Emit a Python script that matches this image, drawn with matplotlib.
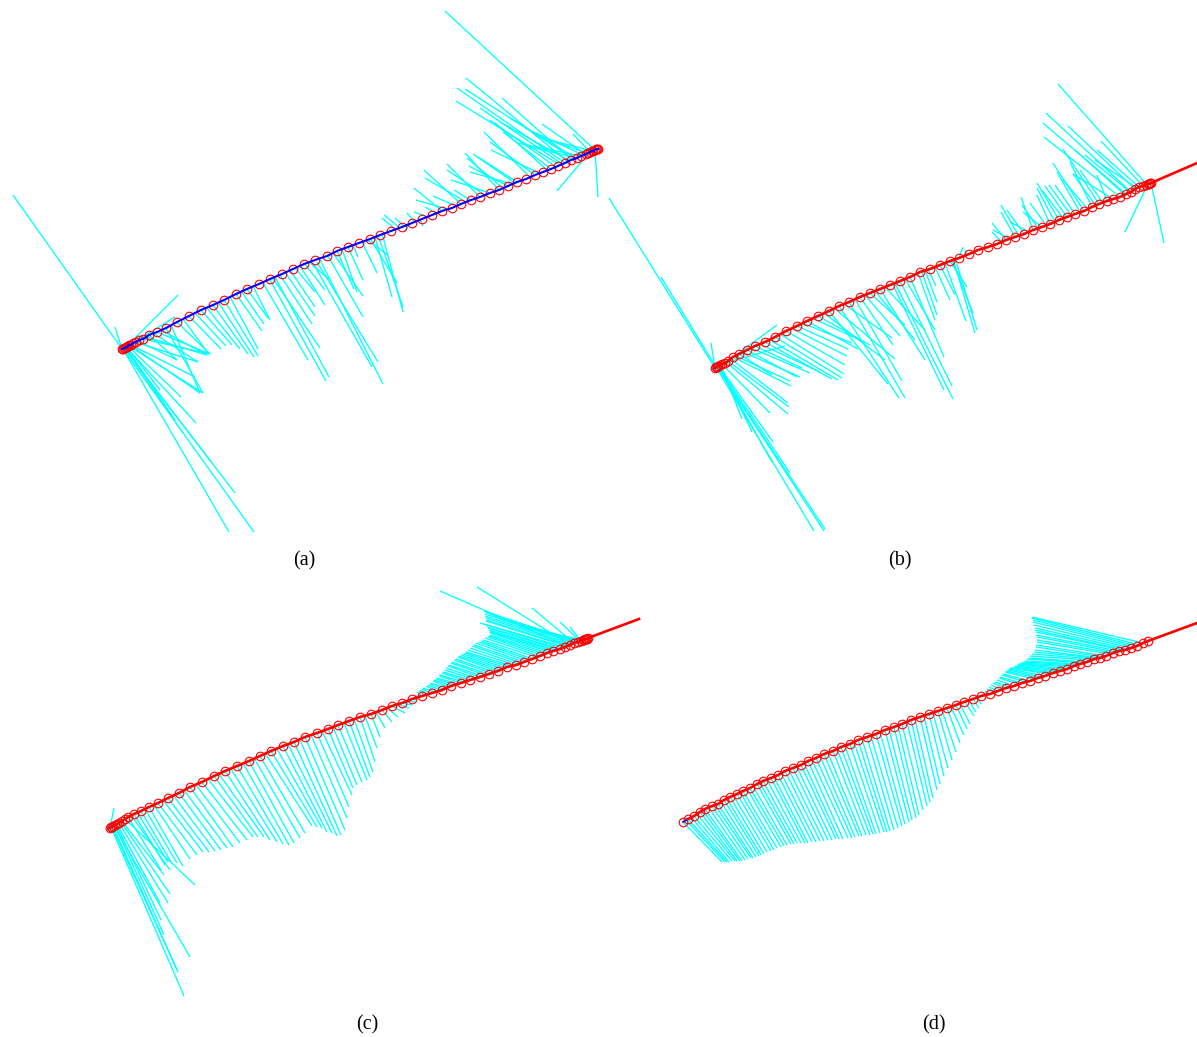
#!/usr/bin/env python3
# curvature combs of one fitted curve at four smoothing levels
# all values are in picture units
import matplotlib
matplotlib.use("Agg")
import matplotlib.pyplot as plt

W, H = 1197, 1037

# sample points of each curve (the open circles)
a_curve = [(122,349),(123,349),(124,348),(125,348),(126,347),(127,347),(128,346),(129,345),(131,345),(133,343),(136,342),(139,340),
           (143,339),(149,335),(157,332),(166,328),(177,322),
           (189,316),(201,310),(213,305),(224,300),(236,294),(247,289),(259,284),(270,279),(282,274),(293,269),
           (304,264),(315,260),(327,256),(337,251),(348,247),(359,243),(370,239),(380,235),(391,231),(402,227),
           (412,223),(422,219),(432,215),(442,211),(452,208),(461,204),(471,200),(480,197),(490,193),(499,190),
           (508,186),(517,182),(526,179),(535,175),(543,172),(551,169),(558,166),(565,163),(571,160),(577,158),
           (581,156),(586,154),(588,153),(590,152),(592,151),(593,151),(595,150),(596,149),(597,149),(598,149)]
b_curve = [(715,368),(716,367),(717,367),(718,366),(720,365),(722,364),(725,363),(728,361),(733,357),(739,354),(747,350),(755,346),(765,342),(775,337),
           (786,331),(797,326),(807,321),(818,316),(829,311),(839,306),(849,302),(860,297),(870,293),(880,289),
           (890,285),(900,281),(910,277),(920,272),(930,269),(940,265),(950,261),(959,258),(969,254),(978,250),
           (988,247),(997,244),(1006,240),(1015,237),(1024,234),(1033,230),(1042,227),(1050,224),(1059,220),(1067,217),
           (1075,214),(1084,211),(1092,207),(1099,204),(1107,201),(1113,199),(1120,197),(1126,194),(1131,192),(1135,189),
           (1139,187),(1143,186),(1146,185),(1148,184),(1149,184),(1150,183),(1151,183)]
c_curve = [(110,828),(111,827),(112,827),(113,826),(115,825),(117,824),(119,823),(122,821),(125,819),(128,817),(134,814),(141,811),(149,807),(158,803),(168,798),
           (179,793),(190,787),(202,782),(214,776),(225,771),(237,766),(249,761),(260,756),(271,751),(283,746),
           (294,742),(305,737),(317,733),(328,729),(338,725),(349,721),(360,717),(371,714),(382,710),(392,706),
           (402,703),(412,699),(422,696),(432,693),(442,690),(451,686),(461,683),(470,680),(480,677),(489,674),
           (498,671),(507,667),(516,665),(524,662),(532,659),(540,656),(547,653),(553,651),(560,649),(565,647),
           (570,645),(574,643),(578,642),(581,641),(583,640),(584,640),(585,639),(586,639),(587,639),(588,638)]
d_curve = [(683,822),(688,819),(694,816),(700,812),(705,809),(712,806),(718,804),(724,800),(730,797),(737,794),
           (743,791),(750,788),(757,784),(763,781),(771,778),(778,775),(785,771),(793,768),(801,765),(808,761),
           (816,758),(824,754),(833,751),(841,747),(850,744),(858,740),(867,737),(876,734),(885,730),(894,727),
           (902,724),(911,720),(920,717),(929,714),(938,711),(947,708),(956,705),(964,702),(973,699),(981,696),
           (990,694),(998,691),(1006,688),(1014,686),(1022,683),(1030,681),(1038,678),(1045,676),(1053,673),(1060,671),
           (1067,669),(1074,666),(1080,664),(1087,662),(1094,659),(1100,658),(1106,656),(1113,653),(1119,651),(1125,650),
           (1131,648),(1137,646),(1143,643),(1148,641)]

# where the curve runs on past its last sample
b_end = (1197,163)
c_end = (639,619)
d_end = (1197,623)

# comb spines: root x, root y, tip x, tip y
a_spines = [(122,349,13,195),(122,349,115,327),(123,349,229,532),(123,349,254,532),(124,348,235,493),(124,348,212,463),
            (125,348,183,433),(125,348,178,295),(126,347,196,423),(126,347,175,420),(127,347,160,390),(128,346,181,397),
            (129,346,203,393),(130,345,200,393),(131,345,195,377),(133,343,175,317),(135,342,198,362),(138,341,177,360),
            (143,339,210,354),(146,337,207,355),(149,335,177,360),(153,333,198,362),(157,332,210,354),(161,330,207,355),
            (166,328,203,393),(171,325,200,393),(177,322,210,354),(183,319,208,353),(189,316,221,349),(195,313,226,346),
            (201,310,232,345),(207,308,240,349),(213,305,248,354),(218,302,254,357),(224,300,258,356),(230,297,258,349),
            (236,294,262,331),(241,291,264,324),(247,289,268,318),(253,286,270,320),(263,283,308,360),(272,277,320,348),
            (270,280,326,381),(275,277,329,377),(280,275,312,324),(285,272,315,316),(290,270,315,307),(295,268,315,292),
            (300,266,325,305),(305,264,325,290),(309,262,330,280),(313,263,372,367),(317,262,378,362),(320,260,383,384),
            (328,256,363,317),(333,253,363,296),(337,251,354,289),(342,249,357,292),(348,247,363,280),(353,245,358,257),
            (362,242,377,273),(367,240,388,255),(370,238,397,283),(375,237,392,297),(378,235,403,307),(382,233,403,312),
            (395,229,382,218),(400,228,384,215),(404,226,395,218),
            (410,224,404,232),(415,222,407,213),(420,220,423,226),(428,217,414,212),(436,213,425,207),(442,211,414,188),
            (447,209,416,200),(456,206,433,196),(461,204,424,170),(466,202,425,178),(470,200,454,190),(480,197,447,164),
            (485,195,447,170),(490,193,451,180),(499,190,465,153),(503,188,467,158),(508,186,469,166),(512,184,470,172),
            (515,183,473,154),(517,182,478,157),(530,177,484,132),(535,175,490,142),(539,173,491,150),(547,170,495,123),
            (551,169,503,132),(556,167,490,120),(560,165,456,101),(562,164,480,108),(565,163,457,88),(568,162,466,78),
            (570,161,500,122),(572,160,502,98),(574,159,465,89),(576,158,510,118),(577,158,530,147),(581,156,517,143),
            (583,155,525,128),(585,154,542,124),(587,153,535,135),(590,152,573,134),(592,151,550,140),(590,152,557,191),
            (595,150,445,11),(595,150,598,197)]

b_spines = [(715,368,609,198),(715,368,711,343),(716,367,661,277),(716,367,814,531),(717,367,824,531),(717,367,825,529),
            (718,366,790,473),(718,366,772,462),(719,366,773,442),(720,365,752,432),(721,365,742,419),(722,364,770,413),
            (724,363,785,346),(725,363,777,325),(726,362,788,414),(728,361,789,407),(731,359,788,403),(733,357,791,386),
            (736,356,790,381),(739,354,772,375),(743,352,800,377),(747,350,797,377),(751,348,810,373),(755,346,802,368),
            (760,344,820,372),(765,342,832,379),(770,340,838,380),(775,337,842,378),(780,334,844,374),(786,331,845,365),
            (791,328,847,356),(797,326,848,349),(802,323,852,343),(807,321,858,349),(812,318,860,340),(818,316,870,345),
            (824,313,885,360),(829,311,888,384),(834,308,895,359),(839,306,899,398),(844,304,892,338),(849,302,905,398),
            (855,299,902,381),(860,297,893,345),(865,295,900,336),(870,293,905,325),(875,291,915,340),(880,289,925,360),
            (885,287,925,330),(892,283,944,390),(895,283,953,399),(900,281,952,386),(905,279,935,330),(910,277,944,357),
            (918,273,935,320),(922,272,937,315),(925,270,937,302),(928,269,936,286),(935,267,950,300),(940,265,955,295),
            (945,263,966,321),(950,261,967,287),(952,260,973,313),(953,259,975,333),(955,258,977,330),(959,258,963,247),
            (964,256,966,250),(1002,242,992,232),
            (1006,240,992,223),(1010,239,993,230),(1015,237,1001,212),(1019,236,1001,205),(1024,234,1007,210),
            (1029,232,1010,222),(1033,230,1021,197),(1038,228,1022,205),(1042,227,1023,212),(1046,225,1030,203),
            (1050,224,1037,195),(1055,222,1037,188),(1059,220,1037,183),(1063,218,1042,190),(1067,217,1045,186),
            (1071,215,1049,185),(1075,214,1055,185),(1080,212,1057,172),(1084,211,1053,163),(1088,209,1063,180),
            (1092,207,1070,162),(1096,206,1073,174),(1099,204,1063,149),(1103,203,1080,170),(1107,201,1097,175),
            (1113,199,1073,174),(1120,197,1044,137),(1125,195,1075,150),(1126,194,1043,123),(1130,192,1085,155),
            (1131,192,1046,113),(1135,189,1068,126),(1137,188,1095,160),
            (1139,187,1097,150),(1143,186,1101,141),(1147,185,1058,84),(1148,184,1125,232),(1151,183,1164,243)]

c_spines = [(110,828,114,808),(111,827,184,996),(112,827,178,972),(113,826,177,970),(114,826,190,957),(115,825,164,935),
            (116,824,161,920),(117,824,160,903),(119,823,168,903),(121,822,170,894),(122,821,164,875),(125,819,195,885),
            (128,817,161,870),(131,815,170,870),(134,814,165,865),(137,812,168,862),(141,811,171,862),(145,809,177,863),
            (149,807,183,866),(154,805,190,859),(158,803,197,855),(163,800,203,852),(168,798,209,852),(173,795,215,851),
            (179,793,221,850),(184,790,227,848),(190,787,233,847),(196,785,240,843),(202,782,247,840),(208,779,253,837),
            (214,776,258,837),(219,774,264,837),(225,771,270,840),(231,769,277,842),(237,766,283,844),(243,763,289,845),
            (249,761,294,843),(254,758,300,838),(260,756,305,833),(265,753,312,826),(271,751,317,827),(277,749,322,828),
            (283,746,327,832),(288,744,332,833),(294,742,337,836),(300,740,341,835),(305,737,345,830),(311,735,347,818),
            (317,733,349,807),(322,731,352,795),(328,729,353,788),(333,727,357,785),(338,725,362,782),(344,723,367,780),
            (349,721,370,777),(354,719,373,772),(360,717,375,762),(365,716,377,748),(371,714,380,737),(376,712,385,728),
            (382,710,392,722),(387,708,398,717),(392,706,405,713),(397,704,409,708),(402,703,412,705),(407,701,415,702),
            (412,699,417,700),
            (419,697,414,695),(422,696,417,692),(425,695,419,691),(428,694,420,690),(431,693,422,689),(434,692,423,688),
            (437,691,426,686),(440,690,428,685),(443,689,430,684),(446,688,431,683),(449,687,433,681),(452,686,434,680),
            (455,685,436,679),(458,684,437,678),(461,683,439,676),(464,682,440,675),(467,681,442,673),(470,680,443,672),
            (473,679,445,670),(476,678,446,668),(479,677,448,666),(482,676,449,665),(485,675,451,663),(488,674,452,662),
            (491,673,454,660),(494,672,456,659),(497,671,458,657),(500,670,459,656),(503,669,461,655),(506,668,463,654),
            (509,667,465,653),(512,666,466,652),(515,665,468,650),(518,664,470,648),(521,663,472,646),(524,662,474,645),
            (527,661,476,643),(530,660,479,642),(533,659,481,641),(536,657,483,640),(539,656,485,638),(542,655,488,637),
            (545,654,489,636),(548,653,490,635),(550,652,490,633),(552,651,490,632),(554,650,490,631),(556,650,489,630),
            (558,649,488,628),(560,649,487,627),(562,648,480,623),(564,647,484,624),(566,646,486,621),(568,646,486,620),
            (570,645,486,618),(572,644,485,616),(574,643,485,614),(575,643,485,612),(576,642,484,611),(577,642,488,613),
            (578,642,493,615),(579,641,497,617),(580,641,503,620),(581,641,510,622),(582,641,518,625),(583,640,525,628),
            (567,646,440,591),(570,645,477,587),(574,643,532,608),(580,641,560,622),(581,641,570,627)]

d_spines = [(683,822,722,862),(686,820,725,862),(688,819,727,862),(691,817,729,862),(694,816,732,861),(697,814,735,861),
            (700,812,737,861),(703,811,740,861),(705,809,742,861),(709,808,745,860),(712,806,748,859),(715,805,751,858),
            (718,804,753,858),(721,802,756,857),(724,800,759,856),(727,799,761,855),(730,797,764,854),(733,795,767,852),
            (737,794,771,851),(740,792,774,850),(743,791,777,848),(747,789,781,847),(750,788,784,846),(753,786,787,845),
            (757,784,791,844),(760,783,794,844),(763,781,797,843),(767,780,801,843),(771,778,805,843),(774,777,808,843),
            (778,775,812,842),(781,773,816,842),(785,771,820,841),(789,770,824,841),(793,768,828,840),(797,767,832,840),
            (801,765,836,839),(804,763,839,839),(808,761,843,839),(812,760,848,838),(816,758,852,838),(820,756,855,837),
            (824,754,859,836),(828,753,862,836),(833,751,866,835),(837,749,870,835),(841,747,873,834),(845,746,876,834),
            (850,744,880,833),(854,742,884,832),(858,740,887,832),(862,739,890,831),(867,737,894,830),(871,736,898,828),
            (876,734,902,826),(880,732,905,824),(885,730,909,822),(889,729,912,820),(894,727,916,818),(898,726,919,815),
            (902,724,923,810),(907,722,927,806),(911,720,930,802),(915,719,933,798),(920,717,937,790),(924,716,940,784),
            (929,714,944,776),(933,713,948,768),(938,711,952,760),(942,710,956,752),(947,708,960,743),(951,707,964,735),
            (956,705,967,729),(960,704,970,724),(965,702,974,716),(969,701,976,712),(973,699,979,708),(977,698,981,704),
            (981,696,981,696),(985,695,983,693),(990,694,985,691),(994,692,987,689),(998,691,989,687),(1002,690,991,685),
            (1006,688,993,683),(1010,687,995,682),(1014,686,997,680),(1018,684,999,678),(1022,683,1000,677),
            (1026,682,1002,675),(1030,681,1003,674),(1034,679,1005,672),(1038,678,1006,671),(1041,677,1008,670),
            (1045,676,1009,669),(1049,674,1010,668),(1053,673,1012,668),(1056,672,1014,667),(1060,671,1015,666),
            (1063,670,1017,665),(1067,669,1018,664),(1070,667,1020,664),(1074,666,1021,663),(1077,665,1023,662),
            (1080,664,1025,661),(1084,663,1027,659),(1087,662,1029,658),(1090,660,1030,656),(1094,659,1032,654),
            (1097,658,1034,652),(1100,658,1035,650),(1103,657,1036,647),(1106,656,1036,645),(1110,654,1037,642),
            (1113,653,1037,640),(1116,652,1037,637),(1119,651,1036,635),(1122,650,1036,632),(1125,650,1035,630),
            (1128,649,1035,628),(1131,648,1034,625),(1134,647,1033,622),(1137,646,1033,620),(1140,645,1032,618),
            (1143,643,1032,617)]


def draw_panel(fig, box, curve, spines, end, label, label_pos):
    x0, y0, x1, y1 = box
    ax = fig.add_axes([x0 / W, 1 - y1 / H, (x1 - x0) / W, (y1 - y0) / H])
    ax.set_xlim(x0, x1)
    ax.set_ylim(y1, y0)
    ax.axis("off")

    for rx, ry, tx, ty in spines:
        ax.plot([rx, tx], [ry, ty], color="cyan", lw=0.95, solid_capstyle="butt", zorder=1)

    cx = [p[0] for p in curve]
    cy = [p[1] for p in curve]
    ax.plot(cx, cy, "o", mfc="none", mec="red", ms=6.2, mew=0.8, zorder=2)
    if end is None:
        ax.plot(cx, cy, color="blue", lw=1.5, zorder=3)
    else:
        ax.plot(cx[:2], cy[:2], color="blue", lw=1.2, zorder=3)
        ax.plot(cx[1:] + [end[0]], cy[1:] + [end[1]], color="red", lw=1.9, zorder=4)

    ax.text(label_pos[0], label_pos[1], label, ha="center", va="center",
            fontsize=14.5, family="Liberation Serif")


fig = plt.figure(figsize=(W / 100, H / 100), dpi=100, facecolor="white")
draw_panel(fig, (0, 0, 605, 575), a_curve, a_spines, None, "(a)", (304, 561))
draw_panel(fig, (605, 0, 1197, 575), b_curve, b_spines, b_end, "(b)", (900, 561))
draw_panel(fig, (0, 575, 660, 1037), c_curve, c_spines, c_end, "(c)", (367, 1025))
draw_panel(fig, (660, 575, 1197, 1037), d_curve, d_spines, d_end, "(d)", (934, 1025))
fig.savefig("out.png", dpi=100)
